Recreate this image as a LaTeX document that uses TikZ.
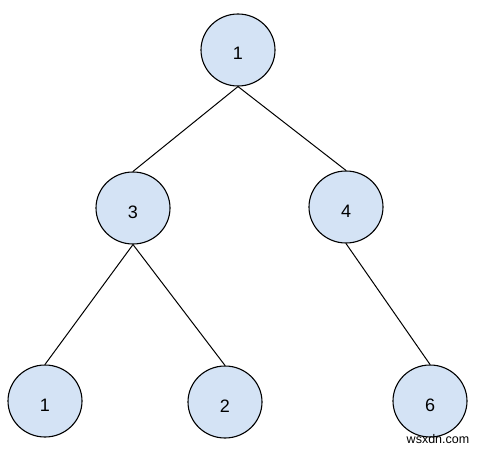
\documentclass[tikz,border=0pt]{standalone}
\usepackage{fontspec}
\setmainfont{Liberation Sans}
\usetikzlibrary{positioning,shapes.geometric}
\definecolor{nodeblue}{RGB}{212,227,245}

\begin{document}
\begin{tikzpicture}[x=1pt, y=-1pt,
  vert/.style={draw, ellipse, fill=nodeblue, line width=1.1pt, minimum width=74pt, minimum height=72pt, inner sep=0pt, text height=20pt, text depth=0pt, font=\fontsize{18}{20}\selectfont},
  edge/.style={line width=1pt}
]
\useasboundingbox (0,0) rectangle (481,449);
\node[vert] (root) at (238,50) {1};
\node[vert] (n3) at (133,208) {3};
\node[vert] (n4) at (346,207) {4};
\node[vert] (l1) at (45,401) {1};
\node[vert] (l2) at (225,402) {2};
\node[vert] (l6) at (430,401) {6};
\draw[edge] (root.south) -- (n3.north);
\draw[edge] (root.south) -- (n4.north);
\draw[edge] (n3.south) -- (l1.north);
\draw[edge] (n3.south) -- (l2.north);
\draw[edge] (n4.south) -- (l6.north);
\node[font=\fontsize{12.5}{14}\selectfont, inner sep=1pt] (mark) at (438,439) {wsxdn.com};
\end{tikzpicture}
\end{document}
